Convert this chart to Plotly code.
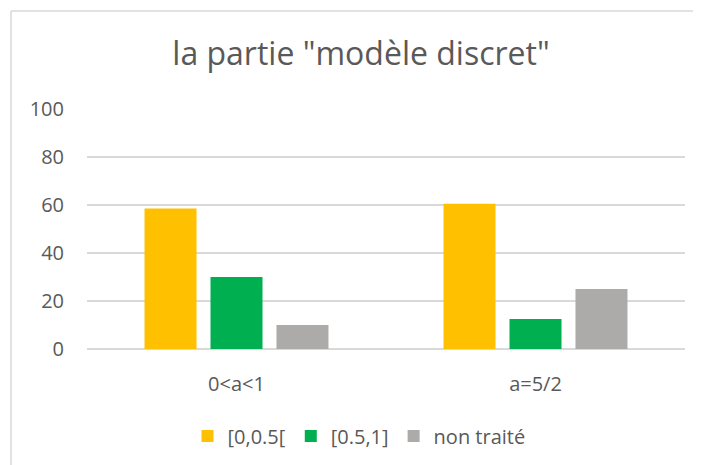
import plotly.graph_objects as go

categories = ["0<a<1", "a=5/2"]
series_names = ["[0,0.5[", "[0.5,1]", "non traité"]
values_low = [58.5, 60.5]
values_high = [30, 12.5]
values_none = [10, 25]
colors = ["#FFC000", "#00B050", "#ADABAA"]
y_ticks = [0, 20, 40, 60, 80, 100]

FONT = "Open Sans"
TXT = "#595959"

fig = go.Figure()
for name, vals, col in zip(series_names, [values_low, values_high, values_none], colors):
    fig.add_trace(go.Bar(x=categories, y=vals, name=name, marker_color=col,
                         marker_line_width=0))

OFF = 8  # page body offset
W, H = 701 - OFF, 465 - OFF
L, R, T = 87 - OFF, 16, 109 - OFF
ph = 240
B = H - T - ph
pw = W - L - R

fig.update_layout(
    width=W, height=H,
    margin=dict(l=L, r=R, t=T, b=B),
    paper_bgcolor="white", plot_bgcolor="white",
    barmode="group", bargap=0.338, bargroupgap=0.212,
    font=dict(family=FONT, color=TXT, size=20),
    title=dict(text='la partie "modèle discret"', x=(361 - OFF) / W, xref="container",
               xanchor="center", y=1 - (54 - OFF) / H, yref="container", yanchor="middle",
               font=dict(family=FONT, size=32, color=TXT)),
    legend=dict(orientation="h", x=351 / W, xref="container", xanchor="center",
                y=1 - 428 / H, yref="container", yanchor="middle",
                font=dict(family=FONT, size=20, color=TXT), itemwidth=30,
                traceorder="normal"),
    showlegend=True,
)
fig.update_yaxes(range=[0, 100], tickvals=y_ticks, showgrid=True,
                 gridcolor="#D9D9D9", gridwidth=1.5, zeroline=True,
                 zerolinecolor="#D9D9D9", zerolinewidth=1.5, showline=False,
                 ticks="", ticklabelstandoff=22, tickfont=dict(size=20, color=TXT))
fig.update_xaxes(showline=False, ticks="", ticklabelstandoff=21,
                 tickfont=dict(size=20, color=TXT))

# chart border: only the top and left edges are visible in the frame
bx = (11 - OFF - L) / pw
by = (T + ph - (11 - OFF)) / ph
border = dict(color="#D9D9D9", width=1.5)
fig.add_shape(type="line", xref="paper", yref="paper", x0=bx, x1=1.3, y0=by, y1=by,
              line=border, layer="below")
fig.add_shape(type="line", xref="paper", yref="paper", x0=bx, x1=bx, y0=by, y1=-0.8,
              line=border, layer="below")

fig.write_html("out.html")
